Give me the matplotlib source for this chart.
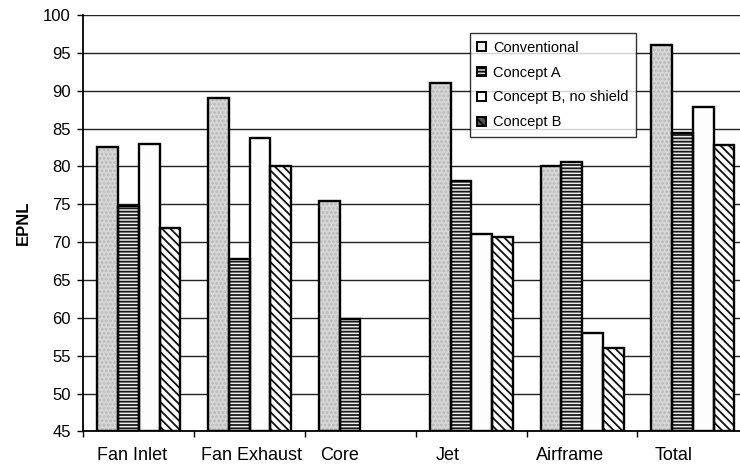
import numpy as np
import matplotlib
matplotlib.use("Agg")
import matplotlib.pyplot as plt
import matplotlib.patches as mpatches
from matplotlib.transforms import ScaledTranslation

# Noise components and their EPNL levels per configuration
categories = ["Fan Inlet", "Fan Exhaust", "Core", "Jet", "Airframe", "Total"]
series_names = ["Conventional", "Concept A", "Concept B, no shield", "Concept B"]
conventional = [82.6, 89.1, 75.5, 91.0, 80.0, 96.0]
concept_a = [74.8, 67.8, 59.8, 78.1, 80.6, 84.4]
concept_b_no_shield = [83.0, 83.8, np.nan, 71.1, 58.0, 87.8]
concept_b = [71.9, 80.0, np.nan, 70.7, 56.0, 82.8]
y_ticks = [45, 50, 55, 60, 65, 70, 75, 80, 85, 90, 95, 100]

plt.rcParams["font.family"] = ["Liberation Sans", "DejaVu Sans"]
plt.rcParams["hatch.linewidth"] = 1.3

# fill colour, hatch pattern, hatch colour for each series
styles = [
    ("#d6d6d6", "....", "#b8b8b8"),
    ("#eeeeee", "-----", "#1a1a1a"),
    ("#fdfdfd", None, "#fdfdfd"),
    ("#ffffff", "\\\\\\\\", "#111111"),
]
legend_hatches = [None, "-----", None, "\\\\\\\\"]

fig = plt.figure(figsize=(7.40, 4.71), dpi=100)
ax = fig.add_axes([0.1128, 0.0839, 0.8984, 0.8843])

x = np.arange(len(categories))
bar_w = 0.1875
values = [conventional, concept_a, concept_b_no_shield, concept_b]
for i, (vals, (face, hatch, hcol)) in enumerate(zip(values, styles)):
    pos = x + (i - 1.5) * bar_w
    heights = np.array(vals, dtype=float) - 45
    ax.bar(pos, heights, width=bar_w, bottom=45, color=face, hatch=hatch,
           edgecolor=hcol, linewidth=0, zorder=3)
    ax.bar(pos, heights, width=bar_w, bottom=45, fill=False,
           edgecolor="black", linewidth=1.7, zorder=4)

ax.set_ylim(45, 100)
ax.set_xlim(-0.5, len(categories) - 0.5)
ax.set_yticks(y_ticks)
ax.yaxis.grid(True, color="#222222", linewidth=1.0, zorder=0)
ax.set_axisbelow(True)
ax.tick_params(axis="y", labelsize=12, length=4.5, width=1.0, pad=4.5,
               direction="out")

# group boundaries carry the tick marks, group centres carry the labels
ax.set_xticks(np.arange(len(categories) + 1) - 0.5)
ax.set_xticklabels([])
ax.tick_params(axis="x", which="major", length=4, width=1.0, direction="out")
ax.set_xticks(x, minor=True)
ax.set_xticklabels(categories, minor=True)
ax.tick_params(axis="x", which="minor", length=0, labelsize=13, pad=11)
label_shift_px = [-7, 2, -21, -24, -12, -19]
for lab, dx in zip(ax.get_xticklabels(minor=True), label_shift_px):
    lab.set_transform(lab.get_transform()
                      + ScaledTranslation(dx / 100, 0, fig.dpi_scale_trans))

for side in ["top", "right"]:
    ax.spines[side].set_visible(False)
for side in ["left", "bottom"]:
    ax.spines[side].set_linewidth(1.3)
    ax.spines[side].set_color("black")

ax.set_ylabel("EPNL", fontsize=12, fontweight="bold", labelpad=9)

legend_faces = ["#ececec", "#dddddd", "white", "#555555"]
handles = [mpatches.Patch(facecolor=f, edgecolor="black", hatch=h, linewidth=1.4)
           for f, h in zip(legend_faces, legend_hatches)]
leg = ax.legend(handles, series_names, loc="upper left",
                bbox_to_anchor=(0.581, 0.956), borderaxespad=0,
                fontsize=10.5, frameon=True, fancybox=False,
                handlelength=0.6, handleheight=0.6, handletextpad=0.5,
                labelspacing=0.75, borderpad=0.5)
leg.get_frame().set_edgecolor("black")
leg.get_frame().set_linewidth(1.0)
leg.set_zorder(10)

fig.savefig("out.png", dpi=100)
